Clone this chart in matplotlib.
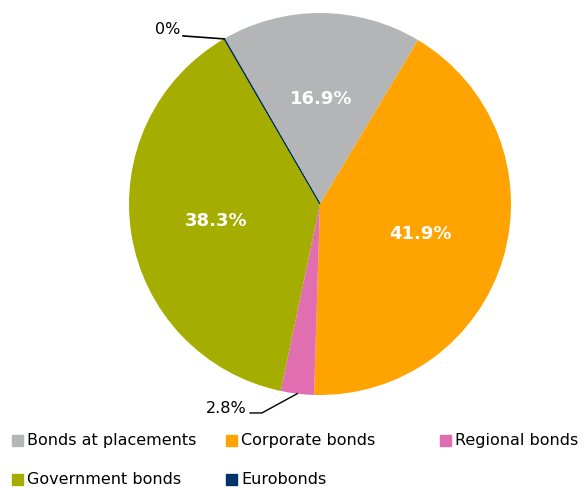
import numpy as np
import matplotlib.pyplot as plt
from matplotlib.patches import Rectangle

# data
categories = ['Bonds at placements', 'Corporate bonds', 'Regional bonds',
              'Government bonds', 'Eurobonds']
shares = [16.9, 41.9, 2.8, 38.3, 0.05]
colors = ['#B4B5B7', '#FFA300', '#E06EB0', '#A4AD00', '#003366']

W, H = 584, 487
fig = plt.figure(figsize=(W / 100, H / 100), dpi=100)
plt.rcParams['font.family'] = ['DejaVu Sans']

# pie centre (320, 204) px, radius 191 px
R = 191
cx, cy = 320, 204
ax = fig.add_axes([(cx - R) / W, (H - cy - R) / H, 2 * R / W, 2 * R / H])

wedges, _ = ax.pie(shares, colors=colors, startangle=120, counterclock=False,
                   wedgeprops=dict(linewidth=0))
wedges[4].set_edgecolor(colors[4])
wedges[4].set_linewidth(0.6)
ax.set_xlim(-1, 1)
ax.set_ylim(-1, 1)
ax.axis('off')


def label(v):
    return '0%' if v < 0.05 + 1e-9 else '{:.1f}%'.format(v)


# labels inside the big slices
for w, v in zip(wedges, shares):
    if v < 10:
        continue
    mid = np.deg2rad((w.theta1 + w.theta2) / 2)
    ax.text(0.55 * np.cos(mid), 0.55 * np.sin(mid), label(v), color='white',
            fontsize=13, fontweight='bold', ha='center', va='center')

# small slices with leader lines
reg = wedges[2]
mid = np.deg2rad((reg.theta1 + reg.theta2) / 2)
ax.plot([np.cos(mid), -0.304, -0.366], [np.sin(mid), -1.094, -1.094],
        color='black', lw=1, clip_on=False)
ax.text(-0.385, -1.07, label(shares[2]), fontsize=11.5, ha='right', va='center')

eur = wedges[4]
a = np.deg2rad(eur.theta2)
ax.plot([np.cos(a), -0.717], [np.sin(a), 0.88], color='black', lw=1.2,
        clip_on=False)
ax.text(-0.73, 0.915, label(shares[4]), fontsize=11.5, ha='right', va='center')

# legend laid out in rows like the source
slots = [(12, 440), (226, 440), (440, 440), (12, 479), (226, 479)]
for (x, y), name, c in zip(slots, categories, colors):
    fig.add_artist(Rectangle((x / W, (H - y - 6) / H), 11 / W, 11 / H,
                             color=c, transform=fig.transFigure))
    fig.text((x + 15) / W, (H - y) / H, name, fontsize=11.5, va='center')

fig.savefig('out.png', dpi=100)
